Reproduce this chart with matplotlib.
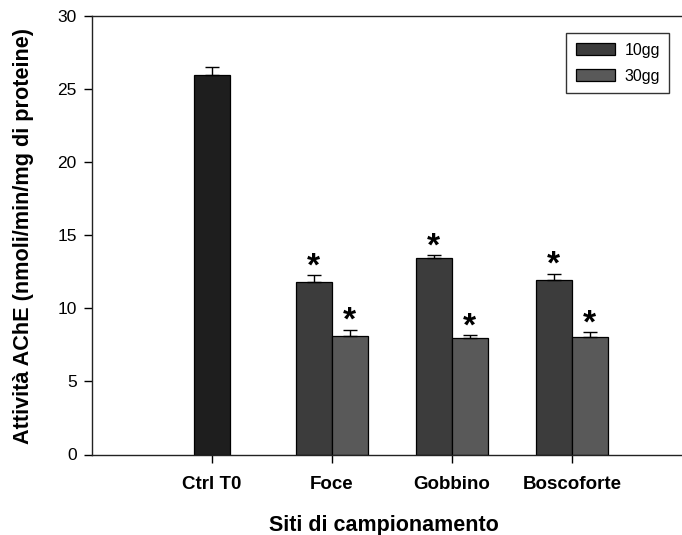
import matplotlib
matplotlib.use("Agg")
import matplotlib.pyplot as plt
import numpy as np

plt.rcParams['font.family'] = ['Liberation Sans', 'DejaVu Sans']

# AChE activity by sampling site
sites = ["Ctrl T0", "Foce", "Gobbino", "Boscoforte"]
ctrl_value = 25.9
ctrl_err = 0.55
val_10gg = [11.8, 13.4, 11.95]
err_10gg = [0.45, 0.2, 0.4]
val_30gg = [8.1, 7.95, 8.05]
err_30gg = [0.4, 0.2, 0.3]
series_labels = ["10gg", "30gg"]
y_ticks = [0, 5, 10, 15, 20, 25, 30]

c_ctrl = "#1e1e1e"
c_10 = "#3c3c3c"
c_30 = "#595959"
width = 0.3

fig = plt.figure(figsize=(6.82, 5.35), dpi=100)
ax = fig.add_axes([92 / 682, 1 - 454.5 / 535, 599.7 / 682, 439 / 535])

x_sites = np.arange(1, len(sites))
err_kw = dict(ecolor="black", elinewidth=1.0, capsize=5, capthick=1.0)

ax.bar(0, ctrl_value, width, color=c_ctrl, edgecolor="black", linewidth=0.9,
       yerr=[[0], [ctrl_err]], error_kw=err_kw, zorder=2)
b10 = ax.bar(x_sites - width / 2, val_10gg, width, color=c_10, edgecolor="black",
             linewidth=0.9, yerr=[np.zeros(3), err_10gg], error_kw=err_kw,
             label=series_labels[0], zorder=2)
b30 = ax.bar(x_sites + width / 2, val_30gg, width, color=c_30, edgecolor="black",
             linewidth=0.9, yerr=[np.zeros(3), err_30gg], error_kw=err_kw,
             label=series_labels[1], zorder=2)

# significance markers above each treated bar
for xs, vals, errs in [(x_sites - width / 2, val_10gg, err_10gg),
                       (x_sites + width / 2, val_30gg, err_30gg)]:
    for xi, v, e in zip(xs, vals, errs):
        ax.annotate("*", (xi, v + e), xytext=(0, -5), textcoords="offset points",
                    ha="center", va="bottom", fontsize=24, fontweight="bold")

ax.set_xlim(-1, 4)
ax.set_ylim(0, 30)
ax.set_yticks(y_ticks)
ax.set_xticks(np.arange(len(sites)))
ax.set_xticklabels(sites, fontsize=13.5, fontweight="bold")
ax.tick_params(axis="y", labelsize=12.5, length=6, width=1, pad=5, direction="out")
ax.tick_params(axis="x", length=6, width=1, pad=9.5, direction="out")

for s in ["left", "bottom", "top"]:
    ax.spines[s].set_linewidth(1.0)
    ax.spines[s].set_color("#222222")
ax.spines["right"].set_visible(False)

ax.set_ylabel("Attività AChE (nmoli/min/mg di proteine)", fontsize=15.6,
              fontweight="bold", va="center")
ax.yaxis.set_label_coords((24 - 92) / 599.7, (454.5 - 236.5) / 439)
ax.set_xlabel("Siti di campionamento", fontsize=15.5, fontweight="bold",
              va="baseline")
ax.xaxis.set_label_coords((384 - 92) / 599.7, (454.5 - 531) / 439)

leg = fig.legend(handles=[b10, b30], labels=series_labels, loc="upper left",
                 bbox_to_anchor=(566 / 682, 1 - 33 / 535),
                 fontsize=11.5, frameon=True, fancybox=False, shadow=False,
                 handlelength=2.45, handleheight=0.8, handletextpad=0.6,
                 labelspacing=0.7, borderpad=0.6, borderaxespad=0)
leg.get_frame().set_edgecolor("black")
leg.get_frame().set_linewidth(1.0)

fig.savefig("out.png", dpi=100)
